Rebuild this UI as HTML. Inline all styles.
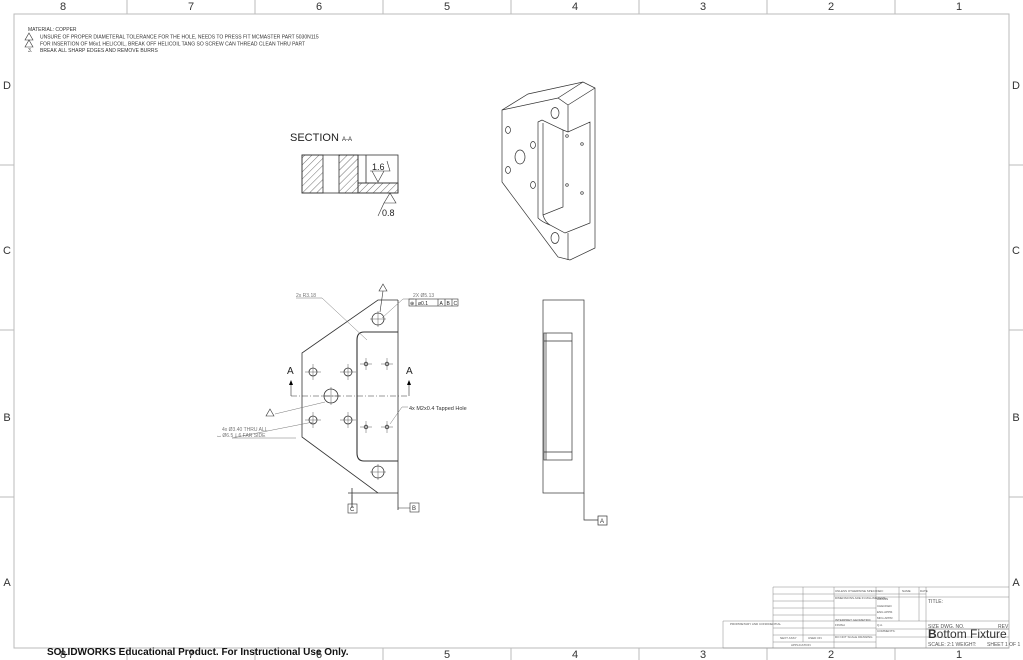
<!DOCTYPE html>
<html><head><meta charset="utf-8"><style>
html,body{margin:0;padding:0;background:#fff}
svg{display:block;font-family:"Liberation Sans",sans-serif}
</style></head><body>
<svg width="1023" height="660" viewBox="0 0 1023 660" xmlns="http://www.w3.org/2000/svg">
<defs>
<pattern id="h" patternUnits="userSpaceOnUse" width="5" height="5" patternTransform="rotate(45)">
<line x1="0" y1="0" x2="0" y2="5" stroke="#333" stroke-width="0.7"/></pattern>
</defs>
<rect width="1023" height="660" fill="#fff"/>
<g stroke="#bbb" stroke-width="1" fill="none">
<rect x="14" y="14" width="995" height="634"/>
<path d="M127 0V14M255 0V14M383 0V14M511 0V14M639 0V14M767 0V14M895 0V14M127 648V660M255 648V660M383 648V660M511 648V660M639 648V660M767 648V660M895 648V660M0 165H14M0 330H14M0 497H14M1009 165H1023M1009 330H1023M1009 497H1023"/>
</g>
<g font-size="11" fill="#333" text-anchor="middle">
<text x="63" y="10">8</text><text x="191" y="10">7</text><text x="319" y="10">6</text><text x="447" y="10">5</text><text x="575" y="10">4</text><text x="703" y="10">3</text><text x="831" y="10">2</text><text x="959" y="10">1</text>
<text x="63" y="658">8</text><text x="191" y="658">7</text><text x="319" y="658">6</text><text x="447" y="658">5</text><text x="575" y="658">4</text><text x="703" y="658">3</text><text x="831" y="658">2</text><text x="959" y="658">1</text>
<text x="7" y="89">D</text><text x="7" y="254">C</text><text x="7" y="421">B</text><text x="7" y="586">A</text>
<text x="1016" y="89">D</text><text x="1016" y="254">C</text><text x="1016" y="421">B</text><text x="1016" y="586">A</text>
</g>
<g font-size="5" fill="#333">
<text x="28" y="31">MATERIAL: COPPER</text>
<text x="40" y="38.5">UNSURE OF PROPER DIAMETERAL TOLERANCE FOR THE HOLE, NEEDS TO PRESS FIT MCMASTER PART 5030N115</text>
<text x="40" y="45.5">FOR INSERTION OF M6x1 HELICOIL, BREAK OFF HELICOIL TANG SO SCREW CAN THREAD CLEAN THRU PART</text>
<text x="28" y="52">3.</text><text x="40" y="52">BREAK ALL SHARP EDGES AND REMOVE BURRS</text>
</g>
<g fill="none" stroke="#333" stroke-width="0.6">
<path d="M29 33l4 7h-8z"/><path d="M29 40l4 7h-8z"/>
</g>

<!-- Section -->
<text x="290" y="141" font-size="11" fill="#222">SECTION <tspan font-size="6">A-A</tspan></text>
<g stroke="#333" stroke-width="0.8">
<rect x="302" y="155" width="21" height="38" fill="url(#h)"/>
<rect x="339" y="155" width="19" height="38" fill="url(#h)"/>
<rect x="358" y="183" width="40" height="10" fill="url(#h)"/>
<rect x="302" y="155" width="96" height="38" fill="none"/>
<path d="M358 155V183H398M366 155V183" fill="none"/>
</g>
<text x="372" y="170" font-size="9" fill="#222">1.6</text>
<path d="M370 171h20l-3-10M372 171l6 11l6-11" fill="none" stroke="#333" stroke-width="0.6"/>
<path d="M384 203l6-10l6 10zM378 216l6-13" fill="none" stroke="#333" stroke-width="0.6"/>
<text x="382" y="216" font-size="9" fill="#222">0.8</text>

<!-- Iso view -->
<g fill="none" stroke="#333" stroke-width="0.7">
<path d="M502 110L528 94L583 82L595 88V248L570 260L558 257L502 182Z"/>
<path d="M502 110L558 98L568 105L595 88M558 98L583 82M568 105V132M568 233V260"/>
<path d="M538 122L542 120L563 130L568 132L590 122V223L565 233L550 225Q542 222 538 218Z"/>
<path d="M543 123V215L563 207V130M543 215Q545 222 550 225"/>
<ellipse cx="555" cy="113" rx="4" ry="5.5"/><ellipse cx="555" cy="238" rx="4" ry="5.5"/>
<ellipse cx="508" cy="130" rx="2.5" ry="3.5"/><ellipse cx="520" cy="157" rx="5" ry="7"/>
<ellipse cx="508" cy="170" rx="2.5" ry="3.5"/><ellipse cx="533" cy="145" rx="2.5" ry="3.5"/><ellipse cx="533" cy="185" rx="2.5" ry="3.5"/>
<circle cx="567" cy="136" r="1.3"/><circle cx="582" cy="144" r="1.3"/><circle cx="567" cy="185" r="1.3"/><circle cx="582" cy="193" r="1.3"/>
</g>

<!-- Front view -->
<g fill="none" stroke="#333" stroke-width="0.8">
<path d="M398 300V510M398 300H378L302 353V437L378 493H398M348 493H398M352 488v20"/>
<path d="M398 332H364Q357 332 357 340V453Q357 461 364 461H398" stroke-width="1.1"/>
<circle cx="378" cy="319" r="6"/><circle cx="378" cy="472" r="6"/>
<circle cx="313" cy="372" r="4"/><circle cx="348" cy="372" r="4"/><circle cx="313" cy="420" r="4"/><circle cx="348" cy="420" r="4"/>
<circle cx="331" cy="396" r="7"/>
<circle cx="366" cy="364" r="1.8"/><circle cx="387" cy="364" r="1.8"/><circle cx="366" cy="427" r="1.8"/><circle cx="387" cy="427" r="1.8"/>
</g>
<g stroke="#333" stroke-width="0.4">
<path d="M370 319h16M378 311v16M370 472h16M378 464v16M305 372h16M313 364v16M340 372h16M348 364v16M305 420h16M313 412v16M340 420h16M348 412v16M322 396h18M331 387v18M360 364h12M366 358v12M381 364h12M387 358v12M360 427h12M366 421v12M381 427h12M387 421v12"/>
</g>
<path d="M291 396H409" stroke="#333" stroke-width="0.6" stroke-dasharray="6 2 1 2"/>
<path d="M291 396V383M409 396V383" stroke="#333" stroke-width="0.6"/>
<path d="M289 385l2-5l2 5zM407 385l2-5l2 5z" fill="#000"/>
<text x="287" y="374" font-size="10" fill="#222">A</text><text x="406" y="374" font-size="10" fill="#222">A</text>
<g stroke="#777" stroke-width="0.5" fill="none">
<path d="M296 298H322L367 340M414 299H403L382 318M296 438H232L313 422M275 414L325 402M408 407H402L390 424"/>
</g>
<path d="M383 284l4 7h-8zM270 409l4 7h-8z" fill="none" stroke="#333" stroke-width="0.6"/>
<path d="M383 291L380 312" stroke="#333" stroke-width="0.6"/>
<text x="296" y="297" font-size="5" fill="#777">2x R3.18</text>
<text x="413" y="297" font-size="5" fill="#777">2X Ø5.13</text>
<g stroke="#333" stroke-width="0.6" fill="none"><rect x="409" y="299" width="49" height="7"/><path d="M416 299v7M438 299v7M445 299v7M452 299v7"/></g>
<text x="410" y="305" font-size="5" fill="#222">⊕</text><text x="418" y="305" font-size="5" fill="#222">ø0.1</text>
<text x="439.5" y="305" font-size="5" fill="#222">A</text><text x="446.5" y="305" font-size="5" fill="#222">B</text><text x="453.5" y="305" font-size="5" fill="#222">C</text>
<text x="409" y="410" font-size="5.5" fill="#333">4x M2x0.4 Tapped Hole</text>
<text x="222" y="431" font-size="5" fill="#777">4x  Ø3.40 THRU ALL</text>
<text x="217" y="437" font-size="5" fill="#777">⌴ Ø6.5 ↧ 6 FAR SIDE</text>
<g stroke="#333" stroke-width="0.6" fill="none">
<path d="M352 495V504M398 508H410"/><rect x="348" y="504" width="9" height="9"/><rect x="410" y="503" width="9" height="9"/>
</g>
<text x="350" y="511" font-size="6" fill="#333">C</text><text x="412" y="510" font-size="6" fill="#333">B</text>

<!-- Side view -->
<g fill="none" stroke="#333" stroke-width="0.7">
<rect x="543" y="300" width="41" height="193"/>
<rect x="544" y="333" width="28" height="127"/>
<path d="M544 341H572M544 452H572M546 333V460M584 493V520H598"/>
<rect x="598" y="516" width="9" height="9"/>
</g>
<text x="600" y="523" font-size="6" fill="#333">A</text>

<!-- Title block -->
<g fill="none" stroke="#888" stroke-width="0.5">
<path d="M773 587H1009M773 587V648M723 621H773M723 621V648M723 648H1009"/>
<path d="M803 587V642M834 587V648M876 587V648M899 587V621M919 587V621M926 587V648M773 594H926M834 596H876M876 597H1009M773 601H834M773 608H876M773 615H876M773 621H876M876 621H1009M773 628H876M876 629H1009M773 642H876M773 635H876M876 637H1009M926 629H1009"/>
</g>
<g font-size="3" fill="#555">
<text x="835" y="592">UNLESS OTHERWISE SPECIFIED:</text><text x="902" y="592">NAME</text><text x="920" y="592">DATE</text>
<text x="835" y="599">DIMENSIONS ARE IN MILLIMETERS</text><text x="877" y="600">DRAWN</text>
<text x="877" y="607">CHECKED</text><text x="877" y="613">ENG APPR.</text><text x="877" y="619">MFG APPR.</text><text x="877" y="626">Q.A.</text><text x="877" y="632">COMMENTS:</text>
<text x="835" y="621">INTERPRET GEOMETRIC</text><text x="835" y="626">FINISH</text><text x="835" y="638">DO NOT SCALE DRAWING</text>
<text x="791" y="646">APPLICATION</text><text x="780" y="639">NEXT ASSY</text><text x="808" y="639">USED ON</text>
<text x="730" y="625">PROPRIETARY AND CONFIDENTIAL</text>
</g>
<text x="928" y="603" font-size="5" fill="#555">TITLE:</text>
<text x="928" y="628" font-size="5" fill="#555">SIZE  DWG. NO.</text><text x="998" y="628" font-size="5" fill="#555">REV</text>
<text x="928" y="638" font-size="12" fill="#333"><tspan font-weight="bold">B</tspan>ottom Fixture</text>
<text x="928" y="646" font-size="5" fill="#555">SCALE: 2:1  WEIGHT:</text><text x="987" y="646" font-size="5" fill="#555">SHEET 1 OF 1</text>
<text x="47" y="655" font-size="10" font-weight="bold" fill="#111">SOLIDWORKS Educational Product. For Instructional Use Only.</text>
</svg>
</body></html>
